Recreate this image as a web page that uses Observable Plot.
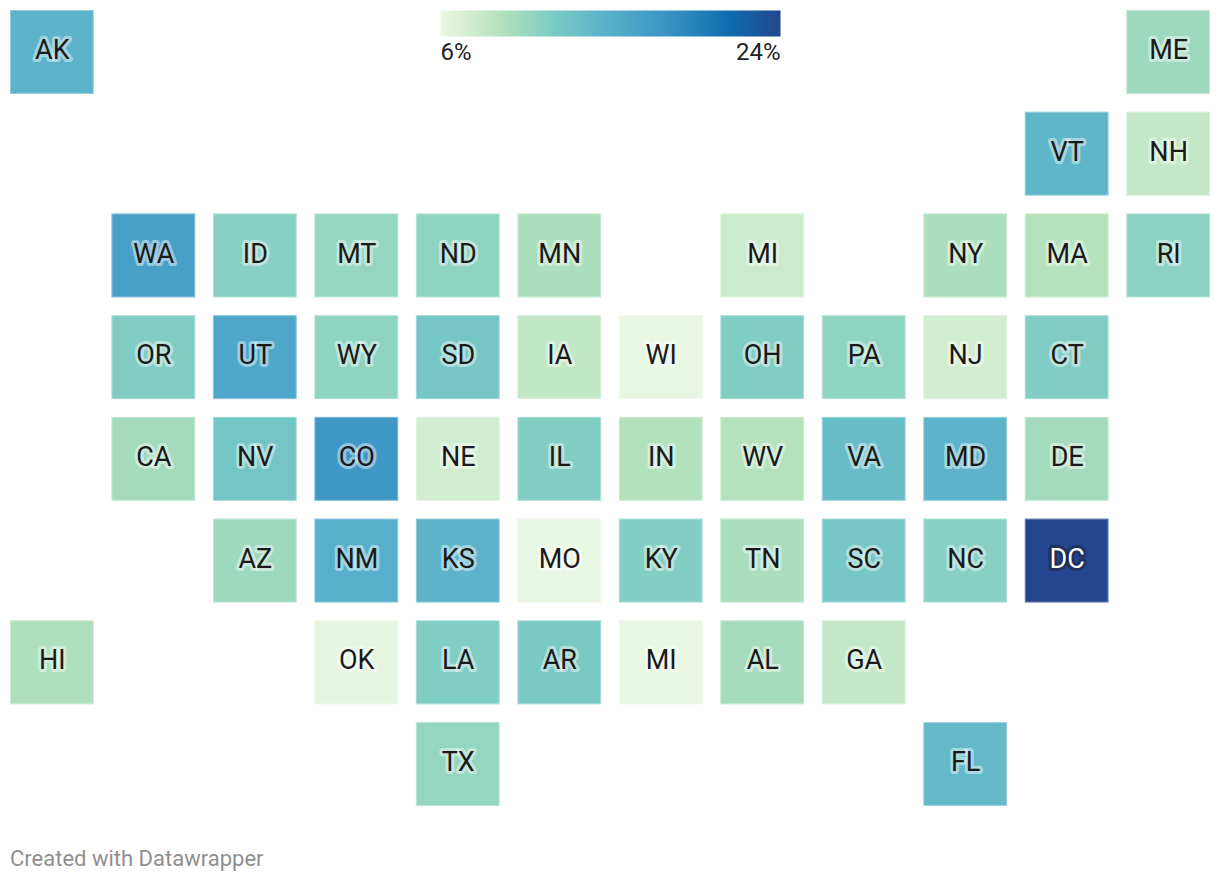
<!DOCTYPE html>
<html><head><meta charset="utf-8">
<script src="https://cdn.jsdelivr.net/npm/d3@7"></script>
<script src="https://cdn.jsdelivr.net/npm/@observablehq/plot@0.6"></script>
<style>
html,body{margin:0;background:#fff;font-family:Roboto,sans-serif}
#wrap{position:relative;width:1220px}
#legend{position:absolute;left:0;top:0;pointer-events:none}
#foot{margin:32px 0 0 10px;font-size:22px;line-height:24px;color:#8f8f8f}
</style></head><body>
<div id="wrap"><div id="map"></div><div id="legend"></div></div>
<div id="foot">Created with Datawrapper</div>
<script>
const states = ["AK","ME","VT","NH","WA","ID","MT","ND","MN","MI","NY","MA","RI","OR","UT","WY","SD","IA","WI","OH","PA","NJ","CT","CA","NV","CO","NE","IL","IN","WV","VA","MD","DE","AZ","NM","KS","MO","KY","TN","SC","NC","DC","HI","OK","LA","AR","MI","AL","GA","TX","FL"];
const cols   = [0,11,10,11,1,2,3,4,5,7,9,10,11,1,2,3,4,5,6,7,8,9,10,1,2,3,4,5,6,7,8,9,10,2,3,4,5,6,7,8,9,10,0,3,4,5,6,7,8,4,9];
const rows   = [0,0,1,1,2,2,2,2,2,2,2,2,2,3,3,3,3,3,3,3,3,3,3,4,4,4,4,4,4,4,4,4,4,5,5,5,5,5,5,5,5,5,6,6,6,6,6,6,6,7,7];
const values = [14.5,10.3,14.3,8.3,16.6,11.4,10.7,11.0,9.6,7.9,9.6,9.2,11.2,11.7,15.9,11.0,12.5,8.5,6.2,11.8,11.0,7.6,11.7,10.0,12.6,17.6,7.6,11.6,9.3,9.2,13.6,14.6,10.0,10.3,15.0,14.5,6.1,11.6,9.7,12.4,11.4,24.0,9.5,6.4,11.8,12.2,6.2,9.9,8.3,10.7,13.9];
const scaleDomain = [6,7,9.2,12,15,18,21.3,24];
const scaleRange  = ["#ecf7e5","#dcf1d7","#b4e2bc","#7bcbc4","#57afcb","#3a93c3","#0e6dae","#24468e"];
const legendTicks = [6,24];

const data = states.map((s,i)=>({state:s,col:cols[i],row:rows[i],value:values[i]}));
const color = {type:"linear",domain:scaleDomain,range:scaleRange,interpolate:"rgb",clamp:true};

const map = Plot.plot({
  width:1220,height:815,margin:0,
  style:{background:"transparent",fontFamily:"Roboto, sans-serif"},
  x:{type:"band",domain:d3.range(12),range:[10,1210],paddingInner:0.175,paddingOuter:0,round:false,axis:null},
  y:{type:"band",domain:d3.range(8),range:[10,806],paddingInner:0.175,paddingOuter:0,round:false,axis:null},
  color,
  marks:[
    Plot.cell(data,{x:"col",y:"row",fill:"value"}),
    Plot.cell(data,{x:"col",y:"row",fill:"none",stroke:"#fff",strokeOpacity:0.35,strokeWidth:1,inset:0.5}),
    Plot.text(data.filter(d=>d.value<=20),{x:"col",y:"row",text:"state",dy:-2,fontSize:27,fill:"#1a1a1a",stroke:"#fff",strokeOpacity:0.45,strokeWidth:6,strokeLinejoin:"round"}),
    Plot.text(data.filter(d=>d.value>20),{x:"col",y:"row",text:"state",dy:-2,fontSize:27,fill:"#fff",stroke:"#1a1a1a",strokeOpacity:0.45,strokeWidth:6,strokeLinejoin:"round"})
  ]
});
document.getElementById("map").append(map);

const legend = Plot.plot({
  width:1220,height:70,margin:0,
  style:{background:"transparent",fontFamily:"Roboto, sans-serif"},
  x:{domain:[6,24],range:[440,780],axis:null},
  y:{domain:[0,1],range:[10,36],axis:null},
  color,
  marks:[
    Plot.raster({fill:(x,y)=>x,x1:6,x2:24,y1:0,y2:1,pixelSize:1}),
    Plot.text([legendTicks[0]],{x:d=>d,y:()=>1,text:d=>d+"%",textAnchor:"start",dy:16,fontSize:24,fill:"#222"}),
    Plot.text([legendTicks[1]],{x:d=>d,y:()=>1,text:d=>d+"%",textAnchor:"end",dy:16,fontSize:24,fill:"#222"})
  ]
});
document.getElementById("legend").append(legend);
</script>
</body></html>
